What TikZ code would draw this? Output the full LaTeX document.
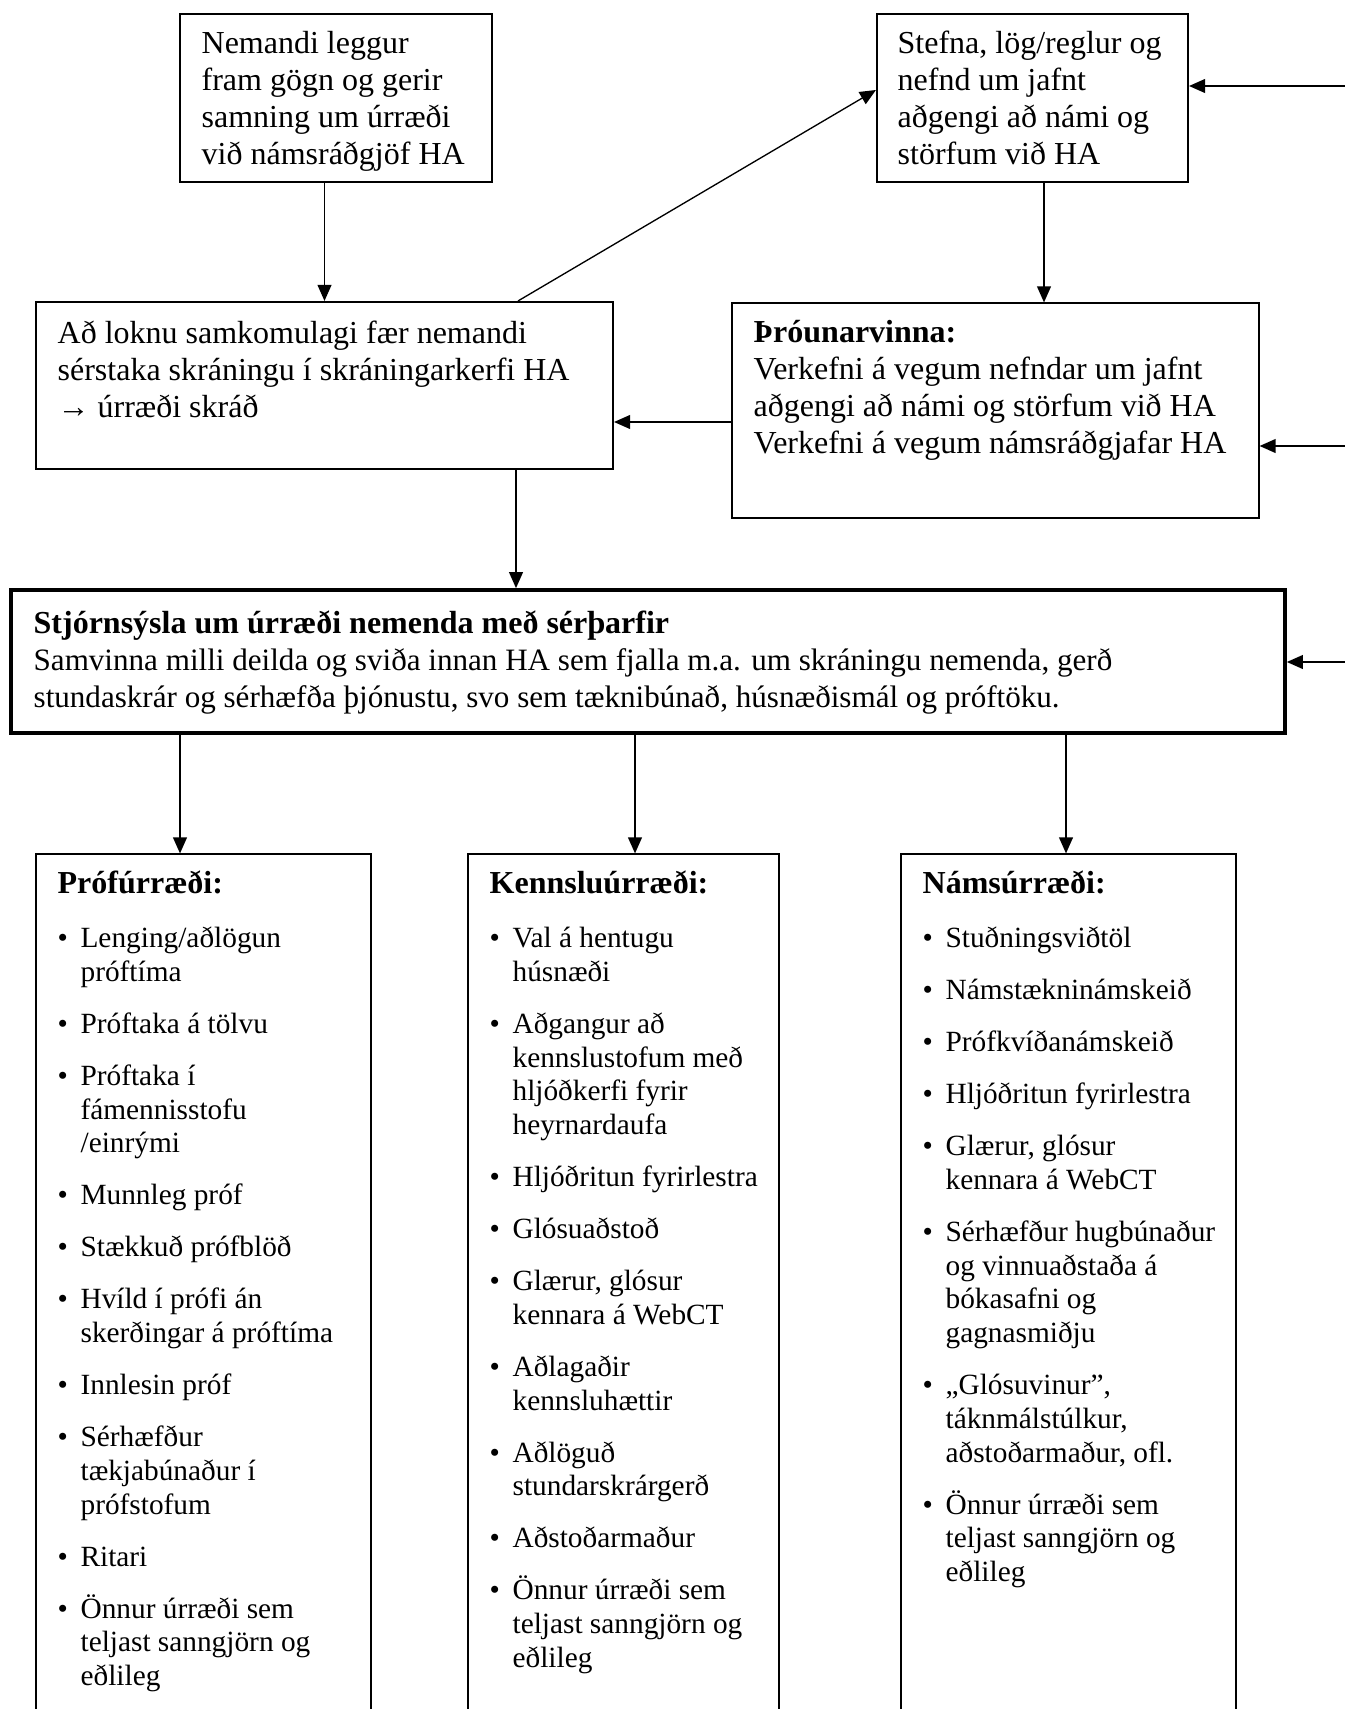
\documentclass[tikz,border=0pt]{standalone}
\usepackage{fontspec}
\setmainfont{Liberation Serif}
\usetikzlibrary{arrows.meta,positioning,calc,fit}

\newcommand{\itm}{\makebox[8.6pt][l]{\textbullet}}
\newcommand{\nextitem}{\\[6.85pt]}
\newcommand{\bodyfont}{\fontsize{12}{13.875}\selectfont}
\newcommand{\listfont}{\fontsize{11}{12.65}\selectfont}

\tikzset{
  >={Triangle[length=6pt,width=5.2pt]},
  boxframe/.style={draw, rectangle, inner sep=0pt, line width=0.8pt},
  thinframe/.style={boxframe, line width=0.45pt},
  boxtext/.style={anchor=north west, inner sep=0pt, font=\bodyfont},
  listtext/.style={anchor=north west, inner sep=0pt, font=\listfont},
}

\begin{document}
\begin{tikzpicture}[x=0.375pt,y=-0.375pt,line width=0.5pt]
   \useasboundingbox (0,0) rectangle (1345,1709);

   \node[boxframe, fit={(180,14) (492,182)}] (nemandi) {};
   \node[boxframe, fit={(877,14) (1188,182)}] (stefna) {};
   \node[boxframe, fit={(36,302) (613,469)}] (skraning) {};
   \node[thinframe, fit={(732,303) (1259,518)}] (throun) {};
   \node[boxframe, line width=1.4pt, fit={(11,590) (1285,733)}] (stjorn) {};
   \node[thinframe, fit={(36,854) (371,1720)}] (prof) {};
   \node[thinframe, fit={(468,854) (779,1720)}] (kennsla) {};
   \node[thinframe, fit={(901,854) (1236,1720)}] (nam) {};

   \node[boxtext] (nemandiTxt) at (201,27.1) {\begin{tabular}{@{}l@{}}
     Nemandi leggur\\ fram gögn og gerir\\ samning um úrræði\\ við námsráðgjöf HA
   \end{tabular}};
   \node[boxtext] (stefnaTxt) at (897,27.1) {\begin{tabular}{@{}l@{}}
     Stefna, lög/reglur og\\ nefnd um jafnt\\ aðgengi að námi og\\ störfum við HA
   \end{tabular}};
   \node[boxtext] (skraningTxt) at (57,317.1) {\begin{tabular}{@{}l@{}}
     Að loknu samkomulagi fær nemandi\\ sérstaka skráningu í skráningarkerfi HA\\ → úrræði skráð
   \end{tabular}};
   \node[boxtext] (throunTxt) at (753,316.1) {\begin{tabular}{@{}l@{}}
     \textbf{Þróunarvinna:}\\ Verkefni á vegum nefndar um jafnt\\ aðgengi að námi og störfum við HA\\ Verkefni á vegum námsráðgjafar HA
   \end{tabular}};
   \node[boxtext] (stjornTxt) at (33,607.1) {\begin{tabular}{@{}l@{}}
     \textbf{Stjórnsýsla um úrræði nemenda með sérþarfir}\\
     \fontsize{11.66}{13.875}\selectfont Samvinna milli deilda og sviða innan HA sem fjalla m.a. um skráningu nemenda, gerð\\
     \fontsize{11.66}{13.875}\selectfont stundaskrár og sérhæfða þjónustu, svo sem tæknibúnað, húsnæðismál og próftöku.
   \end{tabular}};

   \node[listtext] (profTxt) at (57,869.4) {\begin{tabular}{@{}l@{}l@{}}
     \multicolumn{2}{@{}l@{}}{\bodyfont\bfseries Prófúrræði:}\\[7.6pt]
     \itm & Lenging/aðlögun\\ & próftíma\nextitem
     \itm & Próftaka á tölvu\nextitem
     \itm & Próftaka í\\ & fámennisstofu\\ & /einrými\nextitem
     \itm & Munnleg próf\nextitem
     \itm & Stækkuð prófblöð\nextitem
     \itm & Hvíld í prófi án\\ & skerðingar á próftíma\nextitem
     \itm & Innlesin próf\nextitem
     \itm & Sérhæfður\\ & tækjabúnaður í\\ & prófstofum\nextitem
     \itm & Ritari\nextitem
     \itm & Önnur úrræði sem\\ & teljast sanngjörn og\\ & eðlileg
   \end{tabular}};
   \node[listtext] (kennslaTxt) at (489,869.4) {\begin{tabular}{@{}l@{}l@{}}
     \multicolumn{2}{@{}l@{}}{\bodyfont\bfseries Kennsluúrræði:}\\[7.6pt]
     \itm & Val á hentugu\\ & húsnæði\nextitem
     \itm & Aðgangur að\\ & kennslustofum með\\ & hljóðkerfi fyrir\\ & heyrnardaufa\nextitem
     \itm & Hljóðritun fyrirlestra\nextitem
     \itm & Glósuaðstoð\nextitem
     \itm & Glærur, glósur\\ & kennara á WebCT\nextitem
     \itm & Aðlagaðir\\ & kennsluhættir\nextitem
     \itm & Aðlöguð\\ & stundarskrárgerð\nextitem
     \itm & Aðstoðarmaður\nextitem
     \itm & Önnur úrræði sem\\ & teljast sanngjörn og\\ & eðlileg
   \end{tabular}};
   \node[listtext] (namTxt) at (922,869.4) {\begin{tabular}{@{}l@{}l@{}}
     \multicolumn{2}{@{}l@{}}{\bodyfont\bfseries Námsúrræði:}\\[7.6pt]
     \itm & Stuðningsviðtöl\nextitem
     \itm & Námstækninámskeið\nextitem
     \itm & Prófkvíðanámskeið\nextitem
     \itm & Hljóðritun fyrirlestra\nextitem
     \itm & Glærur, glósur\\ & kennara á WebCT\nextitem
     \itm & Sérhæfður hugbúnaður\\ & og vinnuaðstaða á\\ & bókasafni og\\ & gagnasmiðju\nextitem
     \itm & „Glósuvinur”,\\ & táknmálstúlkur,\\ & aðstoðarmaður, ofl.\nextitem
     \itm & Önnur úrræði sem\\ & teljast sanngjörn og\\ & eðlileg
   \end{tabular}};

   \coordinate (cs) at ($(skraning.north east)+(-96,0)$);
   \coordinate (cb) at ($(stefna.west)+(0,-8)$);
   \coordinate (sd) at ($(stefna.south)+(11.5,0)$);
   \coordinate (ts) at ($(throun.west)+(0,11.5)$);
   \coordinate (se) at ($(skraning.south)+(191.5,0)$);
   \coordinate (pf) at ($(prof.north)+(-23.5,0)$);
   \coordinate (kf) at ($(kennsla.north)+(11.5,0)$);
   \coordinate (nf) at ($(nam.north)+(-2.5,0)$);
   \coordinate (rB) at (1345,86);
   \coordinate (rD) at (1345,446);
   \coordinate (rE) at (1345,662);

   \path[->]
    (nemandi.south -| skraning.north) edge (skraning.north)
    (cs) edge (cb)
    (sd) edge (sd |- throun.north)
    (ts) edge (ts -| skraning.east)
    (se) edge (se |- stjorn.north)
    (stjorn.south -| pf) edge (pf)
    (stjorn.south -| kf) edge (kf)
    (stjorn.south -| nf) edge (nf)
    (rB) edge (rB -| stefna.east)
    (rD) edge (rD -| throun.east)
    (rE) edge (rE -| stjorn.east);
\end{tikzpicture}
\end{document}
